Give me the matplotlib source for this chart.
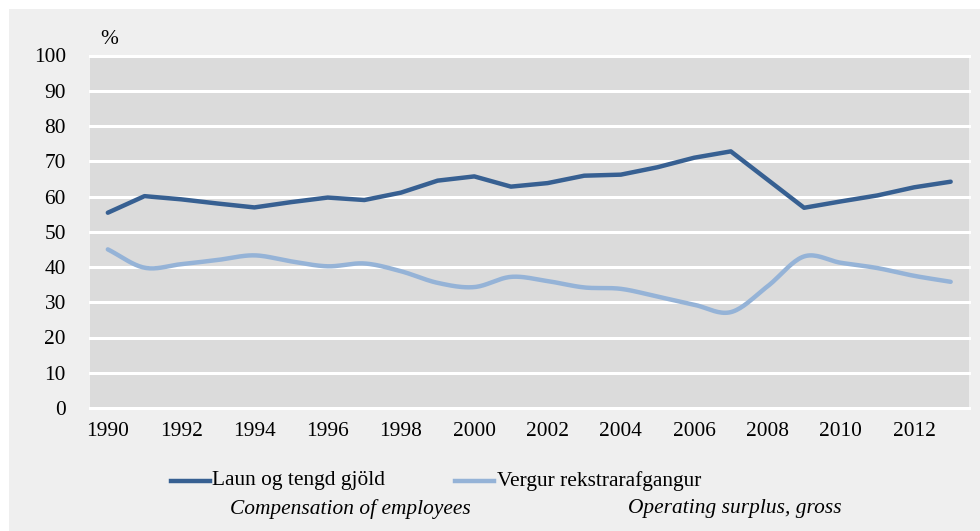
import numpy as np
import matplotlib
matplotlib.use("Agg")
import matplotlib.pyplot as plt
from matplotlib.lines import Line2D
from matplotlib.patches import Rectangle

years = list(range(1990, 2014))
compensation = [55.4, 60.1, 59.2, 58.0, 56.9, 58.4, 59.7, 59.0, 61.1, 64.5,
                65.7, 62.8, 63.8, 65.9, 66.2, 68.3, 71.0, 72.8, 64.8, 56.8,
                58.6, 60.3, 62.6, 64.2]
surplus = [45.0, 39.8, 40.8, 42.0, 43.3, 41.6, 40.2, 41.0, 38.8, 35.5,
           34.3, 37.2, 36.0, 34.2, 33.8, 31.6, 29.3, 27.2, 34.5, 43.0,
           41.2, 39.7, 37.5, 35.8]
xtick_labels = [str(y) for y in years[::2]]
yticks = list(range(0, 101, 10))

label_fo = "Laun og tengd gjöld"
label_en1 = "Compensation of employees"
label_fo2 = "Vergur rekstrarafgangur"
label_en2 = "Operating surplus, gross"

dark = "#376092"
light = "#95b3d7"
fs = 15.4


def smooth(x, y, n=20):
    # catmull-rom style curve through the points, like the spreadsheet smoothing
    x = np.asarray(x, float)
    y = np.asarray(y, float)
    px = np.concatenate([[2 * x[0] - x[1]], x, [2 * x[-1] - x[-2]]])
    py = np.concatenate([[2 * y[0] - y[1]], y, [2 * y[-1] - y[-2]]])
    xs, ys = [], []
    t = np.linspace(0, 1, n, endpoint=False)
    for i in range(1, len(px) - 2):
        p0, p1, p2, p3 = py[i - 1], py[i], py[i + 1], py[i + 2]
        q0, q1, q2, q3 = px[i - 1], px[i], px[i + 1], px[i + 2]
        ys.append(0.5 * (2 * p1 + (-p0 + p2) * t + (2 * p0 - 5 * p1 + 4 * p2 - p3) * t ** 2
                         + (-p0 + 3 * p1 - 3 * p2 + p3) * t ** 3))
        xs.append(0.5 * (2 * q1 + (-q0 + q2) * t + (2 * q0 - 5 * q1 + 4 * q2 - q3) * t ** 2
                         + (-q0 + 3 * q1 - 3 * q2 + q3) * t ** 3))
    xs.append([x[-1]])
    ys.append([y[-1]])
    return np.concatenate(xs), np.concatenate(ys)


plt.rcParams["font.family"] = ["Liberation Serif", "DejaVu Serif"]

fig = plt.figure(figsize=(9.8, 5.31), dpi=100, facecolor="white")
fig.patches.append(Rectangle((9 / 980, 0), 1, 1 - 9 / 531, transform=fig.transFigure,
                             facecolor="#efefef", edgecolor="none", zorder=-10))

ax = fig.add_axes([89.5 / 980, 1 - 408 / 531, (969 - 89.5) / 980, (408 - 55.5) / 531])
ax.set_facecolor("#dbdbdb")
for s in ax.spines.values():
    s.set_visible(False)

x = np.arange(len(years))
ax.plot(x, compensation, color=dark, lw=3.2, solid_capstyle="round", solid_joinstyle="round", zorder=3)
sx, sy = smooth(x, surplus)
ax.plot(sx, sy, color=light, lw=3.2, solid_capstyle="round", zorder=3)

ax.set_xlim(-0.5, len(years) - 0.5)
ax.set_ylim(0, 100)
ax.set_yticks(yticks)
ax.set_xticks(x[::2])
ax.set_xticklabels(xtick_labels)
ax.tick_params(length=0, labelsize=fs, colors="black")
ax.tick_params(axis="y", pad=17)
ax.tick_params(axis="x", pad=10)
for v in yticks:
    ax.axhline(v, color="white", lw=2.2, zorder=1, clip_on=False)

fig.text(100 / 980, 1 - 40 / 531, "%", fontsize=fs, va="center", ha="left")

# legend drawn by hand
fig.add_artist(Line2D([171 / 980, 210 / 980], [1 - 481 / 531] * 2, color=dark, lw=3.2,
                      transform=fig.transFigure))
fig.text(212 / 980, 1 - 481 / 531, label_fo, fontsize=fs, va="center", ha="left")
fig.text(230 / 980, 1 - 509 / 531, label_en1, fontsize=fs, va="center", ha="left", style="italic")
fig.add_artist(Line2D([455 / 980, 494 / 980], [1 - 481 / 531] * 2, color=light, lw=3.2,
                      transform=fig.transFigure))
fig.text(497 / 980, 1 - 481 / 531, label_fo2, fontsize=fs, va="center", ha="left")
fig.text(628 / 980, 1 - 509 / 531, label_en2, fontsize=fs, va="center", ha="left", style="italic")

fig.savefig("out.png", dpi=100, facecolor=fig.get_facecolor())
